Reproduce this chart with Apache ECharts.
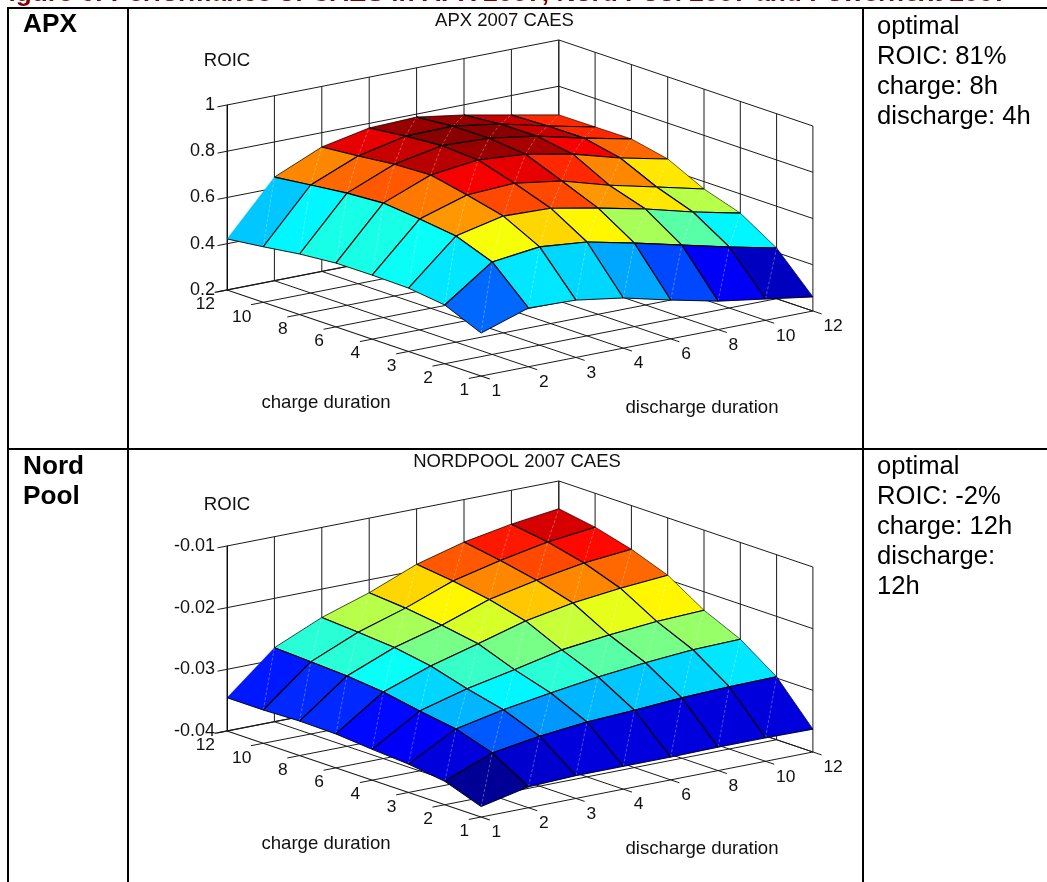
<!DOCTYPE html>
<html>
<head>
<meta charset="utf-8">
<style>html,body{margin:0;padding:0;background:#fff}#c{width:1047px;height:882px}</style>
<script src="https://cdn.jsdelivr.net/npm/echarts@6/dist/echarts.min.js"></script>
</head>
<body>
<div id="c"></div>
<script>
const heading = 'Figure 6: Performance of CAES in APX 2007, Nord Pool 2007 and Powernext 2007';
const chargeTicks = [1, 2, 3, 4, 6, 8, 10, 12];
const dischargeTicks = [1, 2, 3, 4, 6, 8, 10, 12];

// ROIC: rows = charge duration (1..12), columns = discharge duration (1..12)
const apxRoic = [
  [.386, .454, .448, .417, .368, .323, .292, .261],
  [.454, .600, .625, .606, .561, .512, .464, .419],
  [.474, .659, .705, .699, .659, .615, .562, .517],
  [.477, .679, .743, .754, .723, .665, .617, .568],
  [.476, .695, .776, .801, .786, .746, .689, .645],
  [.462, .685, .770, .810, .802, .771, .722, .678],
  [.440, .667, .752, .798, .801, .770, .721, .677],
  [.421, .648, .738, .780, .787, .756, .716, .676]
];
const nordRoic = [
  [-.0383, -.0366, -.0363, -.0363, -.0363, -.0362, -.0362, -.0363],
  [-.0362, -.0331, -.0319, -.0311, -.0307, -.0302, -.0299, -.0298],
  [-.0354, -.0312, -.0296, -.0284, -.0273, -.0265, -.0259, -.0257],
  [-.0350, -.0303, -.0282, -.0266, -.0249, -.0240, -.0233, -.0230],
  [-.0345, -.0292, -.0265, -.0244, -.0222, -.0208, -.0199, -.0193],
  [-.0344, -.0286, -.0255, -.0234, -.0207, -.0191, -.0178, -.0171],
  [-.0346, -.0283, -.0250, -.0226, -.0197, -.0179, -.0164, -.0155],
  [-.0346, -.0280, -.0246, -.0221, -.0190, -.0169, -.0155, -.0145]
];
const apxTitle = 'APX 2007 CAES';
const nordTitle = 'NORDPOOL 2007 CAES';
const apxNotes = ['optimal', 'ROIC: 81%', 'charge: 8h', 'discharge: 4h'];
const nordNotes = ['optimal', 'ROIC: -2%', 'charge: 12h', 'discharge:', '12h'];
const rowLabels = [['APX'], ['Nord', 'Pool']];

// MATLAB jet colormap anchors
const jetStops = [[0, 0, 0, 143], [.125, 0, 0, 255], [.375, 0, 255, 255], [.625, 255, 255, 0], [.875, 255, 0, 0], [1, 128, 0, 0]];
function jet(f) {
  f = Math.max(0, Math.min(.9999, f));
  const t = (Math.floor(f * 64) + .5) / 64;
  for (let i = 1; i < jetStops.length; i++) {
    const a = jetStops[i - 1], b = jetStops[i];
    if (t <= b[0]) {
      const k = (t - a[0]) / (b[0] - a[0]);
      return 'rgb(' + [1, 2, 3].map(j => Math.round(a[j] + (b[j] - a[j]) * k)).join(',') + ')';
    }
  }
  return 'rgb(128,0,0)';
}

// Oblique view: x axis of each grid runs 0..1 across the box, y axis is ROIC.
const N = chargeTicks.length - 1;
const view = { uc: 36.3 / 586, ud: 47.4 / 586, lc: 12.29 / 185, ld: 9.29 / 185 };
const FAMILY = '"Liberation Sans", Arial, sans-serif';
const TICK_FONT = '17.4px ' + FAMILY;
const NAME_FONT = '18.6px ' + FAMILY;
const INK = '#1a1a1a';

function projector(api, zMin, zMax) {
  const span = zMax - zMin;
  return (c, d, z) => api.coord([
    (N - c) * view.uc + d * view.ud,
    z + span * (d * view.ld - (N - c) * view.lc)
  ]);
}
function seg(a, b, w, color) {
  return { type: 'line', shape: { x1: a[0], y1: a[1], x2: b[0], y2: b[1] }, style: { stroke: color || INK, lineWidth: w || 1 } };
}
function txt(x, y, text, align, font) {
  return { type: 'text', style: { x, y, text, fill: '#111', font, align: align || 'center', verticalAlign: 'middle' } };
}

function frameSeries(idx, zMin, zMax, zStep) {
  return {
    type: 'custom', coordinateSystem: 'cartesian2d', xAxisIndex: idx, yAxisIndex: idx, silent: true,
    data: [[0, zMin]],
    renderItem: (params, api) => {
      const P = projector(api, zMin, zMax), kids = [];
      // walls: horizontal levels (their stub past the left corner is the z tick)
      const levels = Math.round((zMax - zMin) / zStep);
      for (let k = 0; k <= levels; k++) {
        const z = zMin + k * zStep;
        kids.push(seg(P(N, -0.2, z), P(N, N, z)));
        kids.push(seg(P(N, N, z), P(0, N, z)));
      }
      // walls: verticals and floor lines
      for (let i = 0; i <= N; i++) {
        kids.push(seg(P(N, i, zMin), P(N, i, zMax)));
        kids.push(seg(P(i, N, zMin), P(i, N, zMax)));
        kids.push(seg(P(i, -0.26, zMin), P(i, N, zMin), i === N ? 1.2 : 1));
        kids.push(seg(P(-0.24, i, zMin), P(N, i, zMin), i === 0 ? 1.2 : 1));
      }
      // floor tick labels
      chargeTicks.forEach((t, i) => {
        const p = P(i, 0, zMin);
        kids.push(txt(p[0] - 12, p[1] + 14.5, String(t), 'right', TICK_FONT));
      });
      dischargeTicks.forEach((t, i) => {
        const p = P(0, i, zMin);
        kids.push(txt(p[0] + 10.5, p[1] + 15.5, String(t), 'left', TICK_FONT));
      });
      const m1 = P(N / 2, 0, zMin), m2 = P(0, N / 2, zMin);
      kids.push(txt(m1[0] - 28, m1[1] + 70, 'charge duration', 'center', NAME_FONT));
      kids.push(txt(m2[0] + 55, m2[1] + 64.5, 'discharge duration', 'center', NAME_FONT));
      return { type: 'group', children: kids };
    }
  };
}

function surfaceSeries(idx, matrix, zMin, zMax) {
  const flat = matrix.flat(), lo = Math.min(...flat), hi = Math.max(...flat);
  const cells = [];
  for (let c = N - 1; c >= 0; c--) for (let d = N - 1; d >= 0; d--) {
    cells.push([c, d, matrix[c][d], matrix[c + 1][d], matrix[c + 1][d + 1], matrix[c][d + 1]]);
  }
  return {
    type: 'custom', coordinateSystem: 'cartesian2d', xAxisIndex: idx, yAxisIndex: idx, silent: true,
    data: cells,
    renderItem: (params, api) => {
      const P = projector(api, zMin, zMax);
      const c = api.value(0), d = api.value(1);
      const a = P(c, d, api.value(2)), b = P(c + 1, d, api.value(3)),
            e = P(c + 1, d + 1, api.value(4)), f = P(c, d + 1, api.value(5));
      const fill = jet((api.value(2) - lo) / (hi - lo));
      const kids = [
        { type: 'polygon', shape: { points: [a, b, e, f] }, style: { fill, stroke: fill, lineWidth: .3 } },
        { type: 'line', shape: { x1: a[0], y1: a[1], x2: e[0], y2: e[1] },
          style: { stroke: 'rgba(255,255,255,.45)', lineWidth: .7, lineDash: [3, 2] } }
      ];
      // edges; the outer ones are hairlines, and the far-left edge of the first column is unstroked
      kids.push(seg(a, f, c === 0 ? .9 : 1.1, '#000'));
      kids.push(seg(a, b, d === 0 ? .9 : 1.1, '#000'));
      kids.push(seg(f, e, d === N - 1 ? .6 : 1.1, '#000'));
      if (!(c === N - 1 && d === 0)) kids.push(seg(b, e, c === N - 1 ? .7 : 1.1, '#000'));
      return { type: 'group', children: kids };
    }
  };
}

function yAxis(idx, zMin, zMax, zStep, gap) {
  return {
    type: 'value', gridIndex: idx, min: zMin, max: zMax, interval: zStep,
    name: 'ROIC', nameLocation: 'end', nameGap: gap,
    nameTextStyle: { fontFamily: 'Liberation Sans', fontSize: 18.6, color: '#111', align: 'center', verticalAlign: 'middle' },
    axisLine: { show: true, lineStyle: { color: '#000', width: 1 } },
    axisTick: { show: false }, splitLine: { show: false },
    axisLabel: { fontFamily: 'Liberation Sans', fontSize: 18, color: '#111', margin: 12, padding: [0, 0, 5, 0] }
  };
}
function xAxis(idx) {
  return { type: 'value', gridIndex: idx, min: 0, max: 1, show: false };
}

function tableGraphics() {
  const g = [];
  const rect = (x, y, w, h) => g.push({ type: 'rect', silent: true, shape: { x, y, width: w, height: h }, style: { fill: '#000' } });
  const label = (x, y, text, font, fill, align) => g.push({ type: 'text', silent: true, x, y, style: { text, font, fill: fill || '#000', textAlign: align || 'left', textVerticalAlign: 'middle' } });
  const bold = 'bold 26.2px ' + FAMILY, plain = '25.6px ' + FAMILY;
  label(1008, -6.5, heading, 'bold 26.3px ' + FAMILY, '#800000', 'right');
  rect(7, 7, 1040, 2); rect(7, 448, 1040, 2);
  rect(7, 7, 2, 875); rect(127, 7, 2, 875); rect(862, 7, 2, 875);
  rowLabels[0].forEach((t, i) => label(23, 25 + i * 29.5, t, bold));
  rowLabels[1].forEach((t, i) => label(23, 467 + i * 29.5, t, bold));
  apxNotes.forEach((t, i) => label(877, 26.5 + i * 30.3, t, plain));
  nordNotes.forEach((t, i) => label(877, 467 + i * 30, t, plain));
  return g;
}

const titleStyle = { fontFamily: 'Liberation Sans', fontSize: 18.5, fontWeight: 'normal', color: '#111' };
const chart = echarts.init(document.getElementById('c'));
chart.setOption({
  animation: false,
  backgroundColor: '#fff',
  title: [
    { text: apxTitle, left: 504.5, top: 21, textAlign: 'center', textVerticalAlign: 'middle', padding: 0, textStyle: titleStyle },
    { text: nordTitle, left: 517, top: 462, textAlign: 'center', textVerticalAlign: 'middle', padding: 0, textStyle: titleStyle }
  ],
  grid: [
    { left: 227, top: 105, width: 586, height: 185, containLabel: false },
    { left: 227, top: 546, width: 586, height: 185, containLabel: false }
  ],
  xAxis: [xAxis(0), xAxis(1)],
  yAxis: [yAxis(0, .2, 1, .2, 44), yAxis(1, -.04, -.01, .01, 41)],
  graphic: tableGraphics(),
  series: [
    frameSeries(0, .2, 1, .2),
    surfaceSeries(0, apxRoic, .2, 1),
    frameSeries(1, -.04, -.01, .01),
    surfaceSeries(1, nordRoic, -.04, -.01)
  ]
});
</script>
</body>
</html>
